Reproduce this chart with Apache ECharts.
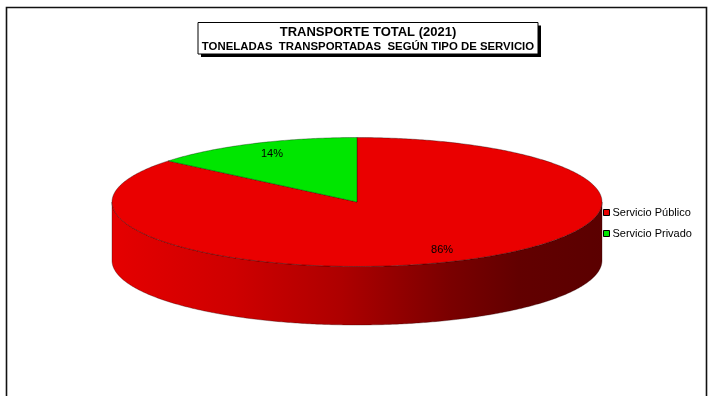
<!DOCTYPE html>
<html>
<head>
<meta charset="utf-8">
<style>
  html, body { margin: 0; padding: 0; background: #fff; }
  #chart { width: 709px; height: 396px; }
</style>
<script src="https://cdn.jsdelivr.net/npm/echarts@6/dist/echarts.min.js"></script>
</head>
<body>
<div id="chart"></div>
<script>
// Tonnage share by type of service, 2021 (percent)
const categories = ['Servicio Público', 'Servicio Privado'];
const values = [86, 14];
const colors = ['#ea0000', '#00e600'];
const titleText = 'TRANSPORTE TOTAL (2021)';
const subtitleText = 'TONELADAS  TRANSPORTADAS  SEGÚN TIPO DE SERVICIO';

const FONT = '"Liberation Sans", Arial, sans-serif';

// Tilted pie geometry (pixels)
const CX = 357, CY = 202, RX = 245, RY = 64.5, DEPTH = 58.5;

function pt(t, dy) {
  return [CX + RX * Math.cos(t), CY - RY * Math.sin(t) + (dy || 0)];
}
function arc(t0, t1, dy) {
  const n = Math.max(8, Math.ceil(Math.abs(t1 - t0) / 0.01));
  const pts = [];
  for (let k = 0; k <= n; k++) pts.push(pt(t0 + (t1 - t0) * k / n, dy));
  return pts;
}
// scale a colour's RGB channels by f (f < 1 darkens)
function shade(color, f) {
  const c = echarts.color.parse(color);
  return 'rgb(' + [0, 1, 2].map(i => Math.round(c[i] * f)).join(',') + ')';
}

function renderSlice(params, api) {
  const c0 = api.value(0), c1 = api.value(1), v = api.value(2);
  const base = colors[params.seriesIndex];
  // slices start at 12 o'clock and run clockwise
  const tA = Math.PI / 2 - c0 * 2 * Math.PI;
  const tB = Math.PI / 2 - c1 * 2 * Math.PI;
  const children = [];

  // front wall: the part of the rim facing the viewer, shaded left to right
  const sideFill = new echarts.graphic.LinearGradient(CX - RX, 0, CX + RX, 0, [
    { offset: 0, color: shade(base, 0.98) },
    { offset: 0.25, color: shade(base, 0.88) },
    { offset: 0.47, color: shade(base, 0.74) },
    { offset: 0.69, color: shade(base, 0.52) },
    { offset: 0.83, color: shade(base, 0.42) },
    { offset: 1, color: shade(base, 0.39) }
  ], true);
  for (const k of [-1, 0, 1]) {
    const lo = Math.max(tB, -Math.PI + 2 * Math.PI * k);
    const hi = Math.min(tA, 2 * Math.PI * k);
    if (hi > lo) {
      const pts = arc(lo, hi, 0).concat(arc(hi, lo, DEPTH));
      children.push({
        type: 'polygon',
        shape: { points: pts },
        style: { fill: sideFill, stroke: 'rgba(40,0,0,0.55)', lineWidth: 0.6 }
      });
    }
  }

  // top face
  const topPts = [[CX, CY]].concat(arc(tA, tB, 0));
  children.push({
    type: 'polygon',
    shape: { points: topPts },
    style: { fill: base, stroke: 'rgba(0,0,0,0.55)', lineWidth: 0.6 }
  });

  // percentage label
  const tm = (tA + tB) / 2;
  children.push({
    type: 'text',
    style: {
      text: v + '%',
      x: CX + RX * 0.815 * Math.cos(tm),
      y: CY - RY * 0.82 * Math.sin(tm),
      align: 'center',
      verticalAlign: 'middle',
      fill: '#000',
      font: '11px ' + FONT
    }
  });
  return { type: 'group', children: children };
}

const total = values.reduce((a, b) => a + b, 0);
let cum = 0;
const series = categories.map((name, i) => {
  const start = cum / total;
  cum += values[i];
  const end = cum / total;
  return {
    type: 'custom',
    name: name,
    coordinateSystem: 'none',
    silent: true,
    itemStyle: { color: colors[i] },
    data: [[start, end, values[i]]],
    renderItem: renderSlice
  };
});

const chart = echarts.init(document.getElementById('chart'), null, { renderer: 'canvas' });
chart.setOption({
  backgroundColor: '#fff',
  animation: false,
  title: {
    text: titleText,
    subtext: subtitleText,
    left: 368,
    top: 25,
    textAlign: 'center',
    itemGap: 2,
    padding: [1, 0],
    textStyle: { fontFamily: FONT, fontSize: 13, fontWeight: 'bold', color: '#000' },
    subtextStyle: { fontFamily: FONT, fontSize: 11.4, fontWeight: 'bold', color: '#000' }
  },
  legend: {
    orient: 'vertical',
    left: 603,
    top: 207,
    padding: 0,
    itemWidth: 6,
    itemHeight: 6,
    itemGap: 10,
    icon: 'rect',
    selectedMode: false,
    itemStyle: { borderColor: '#000', borderWidth: 1 },
    textStyle: { fontFamily: FONT, fontSize: 11, color: '#000', padding: [0, 0, 0, -2] },
    data: categories
  },
  graphic: [
    {
      type: 'rect', z: -10,
      shape: { x: 6.5, y: 7.5, width: 700, height: 420 },
      style: { fill: 'none', stroke: '#111', lineWidth: 1.6 }
    },
    {
      type: 'rect', z: -9,
      shape: { x: 201, y: 25.5, width: 340, height: 31.5 },
      style: { fill: '#000' }
    },
    {
      type: 'rect', z: -8,
      shape: { x: 198, y: 22.5, width: 340, height: 31.5 },
      style: { fill: '#fff', stroke: '#000', lineWidth: 1 }
    }
  ],
  series: series
});
</script>
</body>
</html>
